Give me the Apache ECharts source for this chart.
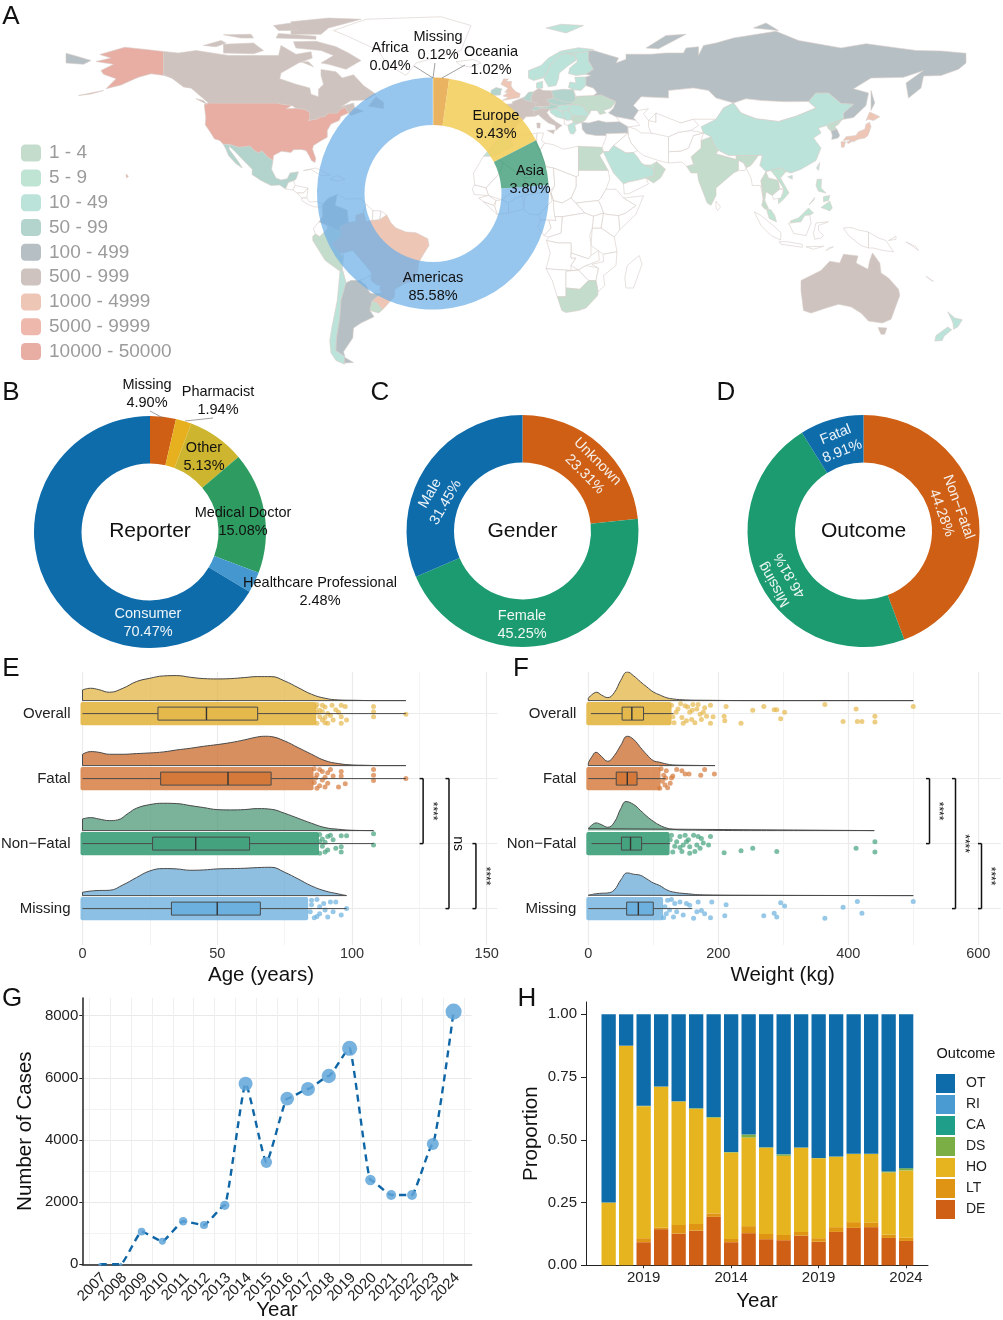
<!DOCTYPE html>
<html>
<head>
<meta charset="utf-8">
<title>Case overview</title>
<script src="https://cdn.jsdelivr.net/npm/echarts@6/dist/echarts.min.js"></script>
<style>
html,body{margin:0;padding:0;background:#fff}
#chart{width:1003px;height:1320px}
</style>
</head>
<body>
<div id="chart"></div>
<script>
// ---- A: map, rough country outlines as flat lon,lat rings
var mapShapes = {
  'USA':[[-124.7,48.4,-123,49,-95.2,49,-94.6,48.7,-89.6,48,-92,46.7,-88,46.9,-84.5,46.5,-82.5,45.3,-82.4,43,-83,42,-79,42.8,-79,43.3,-76.5,43.6,-75,45,-71.5,45,-70,46.7,-68.3,47.3,-67,45,-70,43.7,-70.7,42,-74,40.6,-75.5,38,-75.5,35.3,-78,33.9,-81,32,-81.4,30.5,-80.1,26.8,-80.4,25.2,-81.8,26,-82.8,28,-84,30,-86,30.4,-89,30.3,-90,29.2,-93.8,29.7,-97,28,-97.2,26,-99.5,27.5,-101.5,29.8,-103,29,-104.7,30,-106.5,31.8,-108.2,31.5,-111,31.3,-114.8,32.5,-117.1,32.5,-118.5,34,-120.6,34.6,-122.4,37.5,-124.3,40.3,-124.1,43],
    [-141,69.6,-141,60.3,-137.5,58.9,-133,55.5,-130,55,-134,58,-139,59.8,-146,60.7,-151,59.3,-154,58,-158,56.2,-164,54.7,-160,58.7,-165,60.5,-166,62,-161,64.5,-168,65.6,-162,67,-166.5,68.4,-156.5,71.3,-148,70.4],
    [-156,20.6,-155,19.7,-155.8,19],[-175,52,-165,54,-170,52.6]],
  'Canada':[[-141,69.6,-135,69,-128,70,-115,68,-108,68,-95,68,-94,72,-88,68.5,-82,69.5,-81.5,67,-87,65,-94,61,-94.5,58.7,-88,56.5,-82.5,55,-82,52.5,-79,51.5,-79,54.5,-77,56.5,-78,60,-78,62.4,-72,61.5,-69.5,59,-65,60.3,-61,56,-56,52.5,-60,50.2,-66,50,-70,47.5,-65,49,-64.5,47,-61,45.8,-66,44,-67,45,-68.3,47.3,-70,46.7,-71.5,45,-75,45,-76.5,43.6,-79,43.3,-79,42.8,-83,42,-82.4,43,-82.5,45.3,-84.5,46.5,-88,46.9,-89.6,48,-94.6,48.7,-95.2,49,-123,49,-130,55,-133,55.5,-137.5,58.9,-141,60.3],
    [-62,66,-68,62.5,-75,64.5,-78,65,-73,68,-78,70,-88,71,-89,73.5,-80,73.7,-72,71.5,-67,69],[-117,69,-105,68.7,-101,70,-105,73,-117,72.5],[-125,72,-118,74,-116,73,-120,71.5],[-90,76.5,-78,76.5,-75,79,-62,82.5,-75,83,-90,81.5],[-96,75,-80,74.5,-80,75.7,-95,76.8],[-95,78,-87,78,-90,81,-97,80],[-59,47.7,-53,46.8,-53,49.3,-56,51.5],[-128,50.7,-123.5,48.4,-125,50],[-110,75,-105,75,-106,76.5,-117,76.3],[-86,65.5,-81,63.5,-83,65.5]],
  'Greenland':[[-73,78,-68,76,-55,70,-52,65,-44,60,-40,65,-22,70,-20,75,-18,80,-30,83.5,-60,82.5]],
  'Iceland':[[-24,65.5,-22,64,-18,63.4,-14,65,-17,66.4]],
  'Mexico':[[-114.8,32.5,-111,31.3,-108.2,31.5,-106.5,31.8,-104.7,30,-103,29,-101.5,29.8,-99.5,27.5,-97.2,26,-97.8,22.5,-96,19,-94,18.2,-91.5,18.7,-90.4,21,-87,21.5,-88,18.5,-89,17.9,-91,17.2,-92.2,14.6,-94.5,16.2,-98,16,-102,18,-105.6,20.4,-105.5,22.5,-109,26,-112.8,30,-114.7,31.7],[-117.1,32.5,-114.8,32.4,-114.7,30.5,-111,25.5,-109.5,23,-112,24.7,-115,28,-116,30.5]],
  'Guatemala':[[-92.2,14.6,-91,17.2,-89,17.9,-88.3,16,-89.3,14.2]],
  'Honduras':[[-88.3,16,-83.2,15,-85,13,-87.5,13,-89.3,14.2]],
  'Nicaragua':[[-83.2,15,-83.7,11,-85.7,11,-87.5,13,-85,13]],
  'Panama':[[-83.7,11,-82.6,9.4,-79.5,9.6,-77.3,8.6,-78,7.4,-80.5,7.4,-83,8.3,-85.7,10,-85.7,11]],
  'Cuba':[[-85,22,-80,23,-74.2,20.2,-77.7,19.9,-82,22.4]],
  'Hispaniola':[[-74.4,18.5,-72,20,-68.4,18.6,-71.5,17.7]],
  'Colombia':[[-77.3,8.6,-75,11,-71.5,12.4,-72.3,8,-67.5,6.2,-67,1.2,-70.5,-0.5,-69.9,-4.2,-70,-2.5,-75.2,-0.1,-78.8,1.4,-77.3,3.8,-77.5,7]],
  'Venezuela':[[-71.5,12.4,-68,10.6,-62,10.7,-60,8.5,-61,5,-64,4,-64,1.5,-67,1.2,-67.5,6.2,-72.3,8]],
  'Guyana':[[-60,8.5,-57.2,6,-57.5,2,-60,1.5,-61,5]],
  'Suriname':[[-57.2,6,-54,5.8,-54.5,2.3,-57.5,2]],
  'Guiana':[[-54,5.8,-51.7,4.2,-54.5,2.3]],
  'Ecuador':[[-78.8,1.4,-75.2,-0.1,-75.5,-1.5,-78.5,-4.5,-80.3,-3.4,-81,-1]],
  'Peru':[[-80.3,-3.4,-78.5,-4.5,-75.5,-1.5,-75.2,-0.1,-70,-2.5,-69.9,-4.2,-73.8,-7.3,-70.6,-11,-69,-12.5,-69.5,-17.5,-70.4,-18.3,-76.3,-14,-81.3,-6,-81.3,-4.3]],
  'Brazil':[[-67,1.2,-64,1.5,-64,4,-61,5,-60,1.5,-57.5,2,-54.5,2.3,-51.7,4.2,-50,1,-48,-1,-44,-2.6,-40,-2.9,-35.3,-5.3,-34.8,-8,-37,-11.5,-39,-15,-39.2,-18,-41,-22,-44.5,-23.2,-48.5,-25.5,-48.7,-28.5,-52,-32.2,-53.4,-33.7,-55.7,-30.8,-57.6,-30.2,-53.8,-27,-54.5,-25.5,-54.2,-24,-55.5,-23.9,-58,-22,-57.8,-19,-60,-16.2,-65.3,-10,-69,-11,-70.6,-11,-73.8,-7.3,-69.9,-4.2,-70.5,-0.5]],
  'Bolivia':[[-69,-11,-65.3,-10,-60,-16.2,-57.8,-19,-58,-20,-62.5,-22,-66,-22,-68,-23,-69.5,-17.5,-69,-12.5]],
  'Paraguay':[[-58,-20,-58,-22,-55.5,-23.9,-54.2,-24,-54.5,-25.5,-57.6,-27.3,-58.5,-27,-60,-24,-62.5,-22]],
  'Chile':[[-69.5,-17.5,-68,-23,-70,-30,-70.5,-37,-71.8,-45,-72,-50,-68.5,-52.3,-68.6,-55.5,-72,-54,-74,-51,-74.5,-46,-73.5,-40,-71.5,-30,-70.4,-18.3]],
  'Argentina':[[-66,-22,-62.5,-22,-60,-24,-58.5,-27,-57.6,-27.3,-53.8,-27,-57.6,-30.2,-58.4,-34,-56.8,-36.5,-62,-39,-65,-41,-65.3,-45,-69,-50.5,-68.5,-52.3,-72,-50,-71.8,-45,-70.5,-37,-70,-30,-68,-23],[-68.6,-52.7,-65,-54.8,-68.6,-55]],
  'Uruguay':[[-57.6,-30.2,-55.7,-30.8,-53.4,-33.7,-54.9,-35,-58.4,-34]],
  'Morocco':[[-13,27.7,-8.7,27.7,-1,32,-2,35,-6,35.8,-9.8,31.5]],
  'Mauritania':[[-17,21,-13,27.7,-8.7,27.7,-5,25,-6.5,21,-12,15,-16.5,16.2]],
  'Algeria':[[-8.7,27.7,-1,32,-2,35,8.5,37,8,33,9.5,30,12,23.5,6,19,3.3,19,-5,25]],
  'Tunisia':[[8.5,37,11,37,10.2,34,11.5,33,9.5,30,8,33]],
  'Libya':[[11.5,33,15,32.3,19,30.5,25,31.7,25,20,24,19.5,15,23,12,23.5,9.5,30]],
  'Egypt':[[25,31.7,34.2,31.3,34.9,29.5,33.5,28,36.9,22,25,22]],
  'Sudan':[[25,22,36.9,22,37.5,18.5,36,14.5,34,11,33,10,24,9,22,11,24,15.5,24,19.5,25,20]],
  'South Sudan':[[24,9,33,10,34,8,35,5,31,3.7,27.5,5]],
  'Ethiopia':[[36,14.5,40,14.5,43,11,48,8,44,5,41,3.9,36,4.5,35,5,34,8,33,10,34,11]],
  'Somalia':[[43,11,51,11.9,48,4.5,41.5,-1.7,41,3.9,44,5,48,8]],
  'Kenya':[[41,3.9,41.5,-1.7,39.3,-4.6,34,-1,35,5,36,4.5]],
  'Tanzania':[[34,-1,39.3,-4.6,40.4,-10.5,34.9,-11.5,30,-8,30.5,-1]],
  'Uganda':[[31,3.7,35,5,34,-1,30.5,-1]],
  'Mali':[[-12,15,-6.5,21,-5,25,3.3,19,4,15,0,15,-5.5,10.2,-11,12]],
  'Niger':[[3.3,19,6,19,12,23.5,15,23,15.5,16,13.6,13.7,3.7,12,4,15]],
  'Chad':[[15,23,24,19.5,24,15.5,22,11,18.5,9,15,10,14,13,15.5,16]],
  'Nigeria':[[3,6.5,3.7,12,13.6,13.7,14.5,10,9,4.3,5.5,4.5]],
  'Cameroon':[[9,4.3,14.5,10,14,13,15,10,15,7.5,16,2,9.8,2.2]],
  'CAR':[[15,7.5,15,10,18.5,9,22,11,27.5,5,18.5,3.5,15.5,3.5]],
  'DRC':[[12.2,-6,13,-4.6,18,-3,18.5,3.5,27.5,5,31,3.7,30.5,-1,29.5,-4,30,-8,30,-12,29,-13.3,22,-11,22,-7,17,-7]],
  'Congo':[[11.2,-4,13,-4.6,18,-3,18.5,3.5,15.5,3.5,16,2,13,2.2,14,-1]],
  'Gabon':[[9.8,2.2,13,2.2,14,-1,11.2,-4,8.8,-0.7]],
  'Angola':[[12.2,-6,17,-7,22,-7,22,-11,22,-13,24,-13,22,-16,22,-18,12,-17.3,13.7,-11]],
  'Zambia':[[22,-11,29,-13.3,30,-12,33,-10,33.3,-14,28,-16,25,-17.8,22,-16,24,-13,22,-13]],
  'Namibia':[[12,-17.3,22,-18,25,-17.8,20,-18.3,20,-28.5,16.5,-28.5,14.5,-22]],
  'Botswana':[[20,-18.3,25,-17.8,29,-22,25.5,-25.5,20,-25]],
  'Zimbabwe':[[25,-17.8,28,-16,33,-17,32,-22,29,-22]],
  'Mozambique':[[34.9,-11.5,40.4,-10.5,40,-16,35,-20,35.5,-24,32.8,-26.5,32,-22,33,-17,30.3,-15.5,35,-14.5]],
  'Madagascar':[[49.3,-12,50.4,-15.5,47,-25,44,-25,43.5,-21,44.5,-16]],
  'South Africa':[[16.5,-28.5,20,-28.5,20,-25,25.5,-25.5,29,-22,32,-22,32.8,-26.5,32.7,-28,28,-33,25,-34,20,-34.8,18.3,-34,17,-30]],
  'Senegal':[[-17.5,14.7,-16.5,16.2,-12,15,-11,12,-16.7,12.4]],
  'Guinea':[[-15,11,-11,12,-8,10,-9,8,-13,9.5]],
  'Ivory Coast':[[-8,10,-5.5,10.2,-3,9,-3,5,-7.5,4.4,-8.5,7.5]],
  'Liberia':[[-13,9.5,-9,8,-8.5,7.5,-7.5,4.4]],
  'Ghana':[[-3,9,0,11,2.7,12,3,6.5,-3,5]],
  'Burkina':[[-5.5,10.2,0,15,4,15,2.7,12,0,11,-3,9]],
  'UK':[[-5.5,50,1.3,51.2,1.7,52.7,0,53.5,-1.5,55,-2,56,-1.8,57.6,-4,57.7,-3,58.6,-5,58.6,-6,56.5,-3.2,54.9,-4.5,53.3,-3,53.2,-5.2,51.8,-3,51.3]],
  'Ireland':[[-10,52,-6.2,52.2,-6,54,-5.5,54.6,-8,55.2,-10,54]],
  'France':[[-1.8,43.4,3,42.4,3.9,43.5,7.5,43.7,7,45.8,8.2,49,6.2,49.5,4,50,2.5,51,-1.4,49.5,-1.5,48.7,-4.7,48.4,-1.2,46]],
  'Spain':[[-9,43,-1.8,43.4,3,42.4,0,39.8,-0.5,38,-2,36.8,-5.4,36,-6.5,37,-7.4,37.2,-7,41.8,-8.8,42]],
  'Portugal':[[-8.8,42,-7,41.8,-7.4,37.2,-8.9,37,-9.5,38.7]],
  'Germany':[[6,51,7,53.5,9,54.8,11,54,14.2,53.9,15,51,12.2,50.3,13.8,48.7,13,47.6,7.6,47.6,8.2,49,6.2,49.5]],
  'Benelux':[[2.5,51,4,50,6.2,49.5,6,51,7,53.5,5,53.3,3.5,51.5]],
  'Denmark':[[8.2,55,8.2,57,10.6,57.7,10.7,55,9,54.8]],
  'Norway':[[5,59,7,58,10.7,59,12.2,61,14,64.5,18,68.5,24,69,29,69.7,31,70.4,25,71.1,18,69.8,13,67,10,64,5,62],[12,79,20,77,27,80,18,80.5]],
  'Sweden':[[11,59,13,55.5,16,56,17,58.7,17.3,61,21,64,24,66,23.7,68,20.5,69,18,68.5,14,64.5,12.2,61]],
  'Finland':[[21,60.8,24,60,28,60.5,31,62.5,29,66,29,69.7,24,69,20.5,69,23.7,68,24.5,65.5,21.5,63]],
  'Baltics':[[21,55.2,21.5,57.4,24,57,23.5,59.3,28,59.4,28,56,26,54,23,54.3]],
  'Poland':[[14.2,53.9,18.7,54.5,23,54.3,24,50.5,22.5,49.2,19,49.4,15,51]],
  'Czechia':[[12.2,50.3,15,51,19,49.4,22.5,49.2,22,48.4,17,48,13.8,48.7]],
  'Austria':[[9.6,47.3,13,47.6,13.8,48.7,17,48,16.2,46.8,13.7,46.5,10.5,46.9]],
  'Switzerland':[[6,46.2,7.6,47.6,9.6,47.3,10.4,46.5,8,46]],
  'Hungary':[[16.2,46.8,17,48,22,48.4,21,46.2,18,45.8]],
  'Italy':[[7,45.8,7.5,43.7,9,44.3,11,42.5,13,41,15.7,40,16,38,17,39,18.4,40,16,41.4,13.5,43.5,12.3,45.3,13.7,46.5,10.5,46.9,8,46],[12.5,38,15.5,38.2,15,36.7],[8.3,41,9.7,41,9.6,39,8.5,39]],
  'Croatia':[[13.7,45.2,13.7,46.5,16.2,46.8,18.8,45,19.3,42.6,16,43.5]],
  'Serbia':[[18.8,45,18,45.8,21,46.2,22.5,44,22.5,42.3,20.5,42,19.3,42.6]],
  'Albania':[[19.3,42.6,20.5,42,22.5,42.3,23,41.3,20.8,40,19.3,40.5]],
  'Greece':[[20.8,40,23,41.3,26.3,41.3,23.5,40.2,24,38,23,36.5,21.7,36.8,21,38.5]],
  'Bulgaria':[[22.5,44,28.6,43.6,27.6,42,26.3,41.3,23,41.3,22.5,42.3]],
  'Romania':[[21,46.2,22,48.4,26.6,48.2,28.2,45.5,29.6,45,28.6,43.6,22.5,44]],
  'Ukraine':[[22,48.4,22.5,49.2,24,50.5,24,51.7,31,52,34,52.3,40,49.6,38,47,35,46,36,45,33.5,44.4,32.5,46,30,46,29.6,45,28.2,45.5,26.6,48.2]],
  'Belarus':[[24,51.7,23,54.3,26,54,28,56,31,55,32.5,53,31,52]],
  'Turkey':[[26.3,41.3,29,41,33,42,36,41.3,41.5,41.5,44.7,39.7,44.8,37,36,36.7,36,36,32,36,28,36.7,26.5,38.5]],
  'Russia':[[28,59.4,30,60,28,60.5,31,62.5,29,66,29,69.7,31,70,41,67,40,65,44,66.5,44,68.5,54,68.5,60,69,67,69,68,71,73,71.5,73,68,75,72,80,73,87,75,104,77.7,113,74,130,71,140,72.7,160,70,170,69.8,180,68.9,180,65,177,62.5,170,60,163,59.8,162,55,157,51,156,57,163,62,155,59.3,142,59,135,54.7,141,53,140,48,135,43.2,131,42.5,131,45,135,48.5,130,48.8,125,53,120,53,117,49.6,108,49.5,98,50,92,50.7,87,49,80,51,77,54,71,55,61,54,61,51,50,51.5,47,48,49,46,47,43,48,42,40,43.5,37,45,39,47,40,49.6,34,52.3,31,52,32.5,53,31,55,28,56],
    [-180,68.9,-175,67.5,-170,66,-173,64.5,-180,65],[142,54,143.5,49,142,46,142,50],[52,71,57,70.7,68,76.5,60,76],[95,79,105,78,100,81]],
  'Kazakhstan':[[47,48,50,51.5,61,51,61,54,71,55,77,54,80,51,87,49,83,47,80,42.5,71,42.5,66,41,56,41.3,56,45,53,42,51,44.8,53,46.7,49,46]],
  'Mongolia':[[87,49,92,50.7,98,50,108,49.5,117,49.6,120,47,112,43.7,105,41.6,96,42.7,90,45]],
  'China':[[74,39.5,80,42.5,83,47,87,49,90,45,96,42.7,105,41.6,112,43.7,120,47,117,49.6,120,53,125,53,130,48.8,135,48.5,131,45,131,42.5,128,41.5,124.3,40,121,39,122,37,119,35,122,31,120,26,114,22.5,110,21,108,21.6,106,23,102,22,100,21.5,97.5,24,98.5,28,92,28,88,28,85,28,81,30,79,32.5,78,35.5,75,37],[108.7,19.5,110.5,20,110.5,18.5]],
  'Taiwan':[[120.2,23,121.5,25.2,121,22]],
  'India':[[68.2,23.7,71,24.5,70,27.5,74,31,74,34,78,35.5,79,32.5,81,30,80,28.7,88,26.5,88,28,92,28,97,28,94,24,92,23,91,25,89,26,89,22,87,21,82,16.7,80,15,80,12,78,8.1,76.5,9,73,18,72.6,21,70,21]],
  'Pakistan':[[61,25,66.5,25.4,68.2,23.7,71,24.5,70,27.5,74,31,74,34,75,37,71,36,69,31,66,29.8,61,29.5]],
  'Afghanistan':[[61,29.5,66,29.8,69,31,71,36,75,37,70,38,65,37.3,61,35.5]],
  'Iran':[[44.8,39.5,48,38.5,50,37,54,37,61,36.5,61,31,61,25,57,26,54,27,51,28,48.5,30,46,33,45,35.5]],
  'Iraq':[[39,32,44.8,37,45,35.5,46,33,48.5,30,47,29.2,44,29]],
  'Syria':[[36,36.7,44.8,37,39,32,37,29.5,35,29.5,34.5,31.5,36,35]],
  'Saudi Arabia':[[34.9,29.5,37,29.5,39,32,44,29,47,29.2,48.5,27.5,50.2,25,51.5,24.2,55,22.7,55.5,20,52,19,48,18,45,17.4,43,16.6,39,21,36.5,26]],
  'Yemen':[[43,16.6,45,17.4,48,18,52,19,53,16.6,45,12.7,43.3,12.7]],
  'Oman':[[52,19,55.5,20,55,22.7,56.3,25.5,59.8,22.5,57.8,19,55,17]],
  'UAE':[[51.5,24.2,54,24.2,56.3,25.5,55,22.7]],
  'Uzbekistan':[[53,42,56,41.3,56,45,66,41,71,42.5,73,40,70,38,65,37.3,61,35.5,54,37,53,39.5]],
  'Caucasus':[[40,43.5,48,42,49.5,40,44.8,39.5,41.5,41.5]],
  'Nepal':[[80,28.7,81,30,85,28,88,28,88,26.5]],
  'Bangladesh':[[89,26,91,25,92,23,91.5,22,89,22]],
  'Sri Lanka':[[80,9.7,81.8,7.5,80.6,6,80,7]],
  'Myanmar':[[92,23,94,24,97,28,98.5,28,97.5,24,100,21.5,98,18,99,10,97.8,16,94.5,16,94,19]],
  'Thailand':[[98,18,100,21.5,101,19,105,18,105.5,14.5,102.5,12,100,13.5,99.5,10,101,6.8,99.6,6.5,98.3,8,99,11]],
  'Laos':[[100,21.5,102,22,104,19.5,107,15,105.5,14.5,105,18,101,19]],
  'Vietnam':[[102,22,106,23,108,21.6,105.8,19,109.2,13,107,10.5,105,8.7,105,10.5,107,13,107,15,104,19.5]],
  'Cambodia':[[102.5,12,105.5,14.5,107,14.5,106,11,103,10.5]],
  'Malaysia':[[100.2,6.5,102,6.3,103.5,4,104.2,1.4,101.3,2.8],[109.7,1.8,113,3,115.5,5.5,117,7,119,5,117.5,4.2,115.5,4,114,1.5,112,1.3,110,1]],
  'Indonesia':[[95.3,5.5,98,4,104,-1,106,-3,105.8,-5.8,102,-4,98,0],[105.2,-6.5,108.5,-6.5,114.5,-7.5,114.5,-8.7,106,-7.5],[109,1,110,1,112,1.3,114,1.5,115.5,4,117.5,4.2,118,1,116,-4,111,-3.2,110,-1],[119.5,-5.5,119,-3,120,1,125,1.5,121,0,121,-2,123,-4,122,-5],[131,-1,134,-0.8,137,-1.8,141,-2.6,141,-9,138,-8,133,-4],[116,-8.5,123,-8.3,119,-9.5],[124,-10,127,-8.5,125,-9]],
  'Papua New Guinea':[[141,-2.6,145,-5,148,-6,151,-10.5,147,-10,143,-9,141,-9],[149,-6,152,-4.3,152,-5.5]],
  'Philippines':[[120.5,18.5,122.2,18.5,122,15,124,13,121,13.7,120,16],[122,7.2,125.5,9.7,126.5,7,125.5,5.8,124,6.5],[123,11.5,125.5,12,125,10,123,9.5],[117.2,8.3,119.5,11.2,119,10]],
  'North Korea':[[124.3,40,128,41.5,130.5,42.5,129,40.5,127.5,39.5,128.4,38.5,126,37.8,125,38.6]],
  'South Korea':[[126,37.8,128.4,38.5,129.5,36,128.8,35,126.3,34.4,126.5,36]],
  'Japan':[[130.9,34,132,35.5,136,36,137,37.5,139.5,38.5,140,40.5,141.4,41.3,142,39.5,140.8,36,139.5,35,136.8,34.5,135,33.5,133,34.3],[130,33.5,131.8,33.5,131.2,31.3,130.2,31.3],[132.3,33.5,134.5,34.2,134,33.3,132.8,32.8],[140,42,141.5,45.4,145.5,43.5,143,42,141,42.5]],
  'Australia':[[114,-22,114,-26,115,-34,118,-35,124,-33,129,-31.5,134,-32.5,138,-35,141,-38.2,146.5,-39,150,-37.5,153.5,-28,153,-25.5,149,-21,146,-19,145.5,-15,142.6,-11,141.5,-14,140.8,-17.5,136,-15,136.8,-12.2,131,-11.5,129.5,-15,125.5,-14.3,122,-18,117,-20.5],[144.8,-40.8,148.3,-41,147.5,-43.5,146,-43.5]],
  'New Zealand':[[172.7,-34.5,175.5,-37,178.5,-37.7,176.8,-40.5,175,-41.5,174.8,-39],[172.7,-40.6,174.3,-41.7,171.2,-44.3,170.5,-46,167.5,-46.2,168,-44]],
  'New Caledonia':[[164,-20.3,167,-22.3,166,-22]],
  'Solomon':[[156,-6.5,160,-8.5,161,-10]]
};
var countryCounts = {
  'USA':30000,'Canada':700,'Mexico':60,'Brazil':3000,'Argentina':200,'Colombia':200,'Chile':20,'Peru':3,'Uruguay':3,
  'UK':3000,'France':700,'Germany':700,'Italy':700,'Spain':700,'Portugal':60,'Benelux':60,'Denmark':30,'Norway':20,'Sweden':20,'Finland':20,'Baltics':20,
  'Poland':60,'Czechia':60,'Austria':60,'Switzerland':60,'Hungary':30,'Croatia':20,'Serbia':20,'Greece':20,'Bulgaria':3,'Romania':20,'Ukraine':3,'Ireland':60,
  'Russia':200,'Turkey':200,'China':20,'Japan':3000,'South Korea':200,'North Korea':3,'India':3,'Saudi Arabia':20,'Egypt':3,'Oman':3,'South Africa':3,'Morocco':20,
  'Australia':700,'New Zealand':20,'Thailand':3,'Malaysia':7,'Philippines':7,'Vietnam':7,'Taiwan':20,'UAE':7
};
var classNames = ['1 - 4','5 - 9','10 - 49','50 - 99','100 - 499','500 - 999','1000 - 4999','5000 - 9999','10000 - 50000'];
var classMins = [1,5,10,50,100,500,1000,5000,10000];
var classMaxs = [4,9,49,99,499,999,4999,9999,50000];
var classColors = ['#C4DCCC','#BFE4D3','#BCE3D9','#B3D4CD','#B5BFC4','#CEC3BF','#EEC6B6','#EEB8AC','#E8ADA3'];

// ---- A-D: donuts. Arc sizes follow the drawn slices, labels carry the printed percentages
var continentNames = ['Missing','Oceania','Europe','Asia','Americas','Africa'];
var continentArcs = [0.12,2.1,15.2,6.4,76.1,0.04];
var continentTexts = ['0.12%','1.02%','9.43%','3.80%','85.58%','0.04%'];
var continentColors = ['rgba(240,190,90,.95)','rgba(233,175,90,.95)','rgba(243,207,95,.9)','rgba(50,150,110,.75)','rgba(110,175,230,.72)','#9ec9ec'];
var reporterNames = ['Missing','Pharmacist','Other','Medical Doctor','Healthcare Professional','Consumer'];
var reporterArcs = [3.6,2.2,8,16.9,2.9,66.4];
var reporterTexts = ['4.90%','1.94%','5.13%','15.08%','2.48%','70.47%'];
var reporterColors = ['#CE5F15','#E6B01E','#CDB52F','#2E9C60','#4498CF','#0F6CAB'];
var genderNames = ['Unknown','Female','Male'];
var genderValues = [23.31,45.25,31.45];
var genderColors = ['#CE5F15','#1C9A70','#0F6CAB'];
var outcomeNames = ['Non\u2212Fatal','Missing','Fatal'];
var outcomeValues = [44.28,46.81,8.91];
var outcomeColors = ['#CE5F15','#1C9A70','#0F6CAB'];

// ---- E, F: rainclouds. density pairs are [x, height]
var rowNames = ['Overall','Fatal','Non\u2212Fatal','Missing'];
var rowColors = ['#E5B84C','#D4793A','#45A27E','#6BB0DE'];
var rowFills = ['rgba(226,177,60,.72)','rgba(204,112,50,.78)','rgba(70,150,115,.72)','rgba(90,160,210,.68)'];
var bandOpacity = [.95,.82,.95,.78];
var ageDensityOverall = [[0,32],[3,37],[6,33],[10,25],[15,37],[20,57],[25,67],[30,74],[35,75],[40,70],[45,66],[50,65],[55,66],[60,69],[65,72],[70,72],[75,59],[80,39],[85,19],[90,7],[95,2],[100,1],[110,0],[120,0]];
var ageDensityFatal = [[0,34],[3,42],[6,40],[10,34],[15,34],[20,36],[25,38],[30,41],[35,47],[40,52],[45,58],[50,63],[55,69],[60,77],[65,86],[68,88],[70,87],[75,74],[80,54],[85,34],[90,15],[95,6],[100,2],[105,1],[110,0],[120,0]];
var ageDensityNonFatal = [[0,35],[3,39],[6,35],[10,30],[13,32],[17,52],[20,67],[25,78],[30,82],[35,81],[40,75],[45,69],[50,63],[55,62],[60,63],[65,66],[70,64],[75,52],[80,37],[85,22],[90,9],[95,4],[100,1],[108,0]];
var ageDensityMissing = [[0,10],[5,15],[10,16],[15,32],[20,54],[25,74],[30,81],[35,80],[40,76],[45,77],[50,80],[55,81],[60,82],[65,84],[70,85],[75,70],[80,50],[85,29],[90,14],[95,5],[98,0]];
var ageBands = [[0,86],[0,85],[0,87],[0,83]];
// box: low whisker, q1, median, q3, high whisker
var ageBoxes = [[0,28,46,65,120],[0,29,54,70,120],[0,26,42,62,108],[0,33,50,66,98]];
var agePoints = [
  [[108,.11],[108,.03],[108,-.05],[120,-.01],[96,.13],[97.5,.11],[98,-.1],[96,-.15],[96,-.05],[93,-.1],[94,.06],[91,-.15],[92.6,.13],[95,.02],[87,.14],[88,.05],[89,-.1],[90,.1],[87,-.15],[91,0],[86.5,.1],[89,.13],[88,-.05],[90,-.14],[92,-.03],[87,.02],[89,.03],[90,-.06]],
  [[108,.14],[108,.05],[108,-.03],[120,0],[96,.11],[96,.04],[97.5,-.08],[95,-.13],[92,.14],[93,.04],[91,-.07],[90,-.13],[88,.14],[89,-.02],[91,.09],[86,.15],[87,.06],[88,-.11],[86,-.06],[89,.11],[87,-.15],[90,.02],[86.5,.01]],
  [[108,.15],[108,-.02],[98,.12],[96,.12],[96,-.05],[96,-.13],[94,-.07],[92,.13],[91,-.1],[93,.06],[90,.02],[88,.14],[89,.07],[90,-.13],[88,-.15],[89,-.04],[91,.11],[88,.03]],
  [[98,0],[96,-.1],[94,.1],[93,-.05],[92,.1],[91,-.13],[89.5,.08],[88,-.08],[87,.14],[88,.03],[85,.13],[86,-.14],[84.5,-.05],[85,.06],[87,-.12],[90,-.02]]
];
var weightDensityOverall = [[0,7],[5,17],[13,25],[20,17],[30,9],[40,24],[50,61],[60,86],[70,74],[80,57],[90,41],[100,26],[110,17],[120,9],[130,5],[150,2],[180,1],[250,0],[500,0]];
var weightDensityFatal = [[0,8],[5,25],[12,40],[20,28],[30,13],[40,30],[50,61],[60,88],[70,78],[80,55],[90,33],[100,15],[110,10],[120,5],[130,2],[150,1],[195,0]];
var weightDensityNonFatal = [[0,6],[5,16],[12,23],[20,18],[30,10],[40,25],[50,66],[58,87],[70,78],[80,61],[90,43],[100,28],[110,16],[120,8],[130,4],[150,2],[180,1],[250,0],[440,0]];
var weightDensityMissing = [[0,1],[10,5],[20,7],[30,8],[40,17],[50,47],[60,68],[70,64],[80,61],[90,50],[100,38],[110,30],[120,18],[130,11],[150,6],[180,2],[250,1],[500,0]];
var weightBands = [[0,125],[0,108],[0,122],[0,112]];
var weightBoxes = [[4,52,67,85,131],[0,43,60,75,119],[5,51,65,82,126],[0,59,77,100,160]];
var weightPoints = [
  [[188,.13],[212,.11],[253,.05],[270,.11],[286,.06],[290,.06],[302,.02],[296,-.08],[364,.14],[412,.07],[500,.11],[392,-.12],[414,-.12],[421,-.12],[441,-.04],[441,-.13],[235,-.15],[209,-.04],[210,-.11],[188,-.15],[192,-.05],[179,.09],[161,.14],[167,.07],[172,-.01],[174,-.09],[164,-.14],[156,.02],[149,.12],[144,-.06],[177,.02],[182,-.04],[151,-.11],[138,.07],[169,.14],[159,-.09],[128,.13],[132,-.14],[135,.02],[130,-.05],[142,.15],[146,-.15],[153,.1],[160,.05]],
  [[136,.14],[144,.12],[149,.07],[155,.07],[179,.14],[173,.05],[194,.07],[128,.01],[126,-.07],[118,-.1],[130,.04],[120,.12],[122,-.14],[112,.15],[114,-.04],[116,.05],[110,-.15],[119,.01]],
  [[188,.11],[209,-.14],[235,-.11],[253,-.07],[290,-.12],[412,-.07],[441,.03],[441,-.13],[141,.11],[149,.13],[154,.06],[162,.13],[169,.11],[174,.08],[146,-.02],[156,-.05],[167,-.02],[177,.01],[185,-.02],[144,-.12],[156,-.15],[164,-.12],[172,-.07],[136,.03],[141,-.06],[151,.03],[128,.13],[130,-.13],[133,-.04],[126,.06]],
  [[190,.1],[212,.06],[296,.09],[302,.04],[392,.02],[414,.11],[500,.11],[421,-.07],[364,-.15],[270,-.11],[286,-.07],[290,-.13],[210,-.11],[188,-.14],[179,-.08],[174,-.03],[169,.1],[167,-.05],[162,-.15],[151,.08],[141,.1],[146,-.1],[136,-.05],[156,.05],[131,-.13],[133,.08],[125,-.02],[122,.13],[116,-.14],[118,.03],[120,-.08],[128,.14]]
];
// significance brackets: x, from row, to row
var ageBrackets = [[126.4,3,2],[136,3,1],[146,2,1]];
var ageBracketText = ['****','ns','****'];
var weightBrackets = [[525,3,2],[565,3,1],[605,2,1]];
var weightBracketText = ['****','****','****'];

// ---- G
var years = [2007,2008,2009,2010,2011,2012,2013,2014,2015,2016,2017,2018,2019,2020,2021,2022,2023,2024];
var halfYears = [2006.5,2007.5,2008.5,2009.5,2010.5,2011.5,2012.5,2013.5,2014.5,2015.5,2016.5,2017.5,2018.5,2019.5,2020.5,2021.5,2022.5,2023.5,2024.5];
var caseCounts = [0,0,1050,740,1383,1265,1898,5812,3281,5330,5640,6059,6949,2713,2230,2230,3871,8129];
var caseTicks = [0,2000,4000,6000,8000];

// ---- H
var deValues = [0,0,.092,.144,.126,.138,.193,.092,.128,.104,.100,.118,.094,.133,.149,.152,.109,.097];
var ltValues = [0,0,.016,.006,.035,.027,.014,.013,.028,.021,.021,.015,.014,.019,.023,.018,.013,.013];
var hoValues = [.25,.875,.526,.561,.492,.459,.381,.344,.353,.343,.315,.335,.318,.280,.271,.273,.248,.268];
var dsValues = [0,0,.002,.001,.001,.002,.003,.002,.012,.002,.006,.001,.001,.001,.001,.001,.004,.009];
var caValues = [0,0,0,0,0,0,0,0,0,0,0,0,0,0,0,0,0,0];
var riValues = [0,0,0,0,0,0,0,0,0,0,0,0,0,0,0,0,0,0];
var otValues = [.75,.125,.364,.288,.346,.374,.409,.549,.479,.530,.558,.531,.573,.567,.556,.556,.626,.613];
var outcomeCodes = ['OT','RI','CA','DS','HO','LT','DE'];
var outcomeCodeColors = ['#0F6CAB','#4A9BD1','#1F9E8A','#7BAE45','#E6B41E','#E09413','#D05F16'];
var proportionTicks = [0,.25,.5,.75,1];
var barTickYears = [2009,2014,2019,2024];
var barTickLabels = ['2019','2014','2019','2024'];

var FONT = '"Liberation Sans", Arial, sans-serif';
var chart = echarts.init(document.getElementById('chart'), null, {renderer:'canvas'});

var features = [];
Object.keys(mapShapes).forEach(function(name){
  var polys = mapShapes[name].map(function(flat){
    var ring = [];
    for (var i=0;i<flat.length;i+=2) ring.push([flat[i],flat[i+1]]);
    ring.push(ring[0]);
    return [ring];
  });
  features.push({type:'Feature',properties:{name:name},geometry:{type:'MultiPolygon',coordinates:polys}});
});
echarts.registerMap('roughWorld',{type:'FeatureCollection',features:features});

function donut(center,names,values,colors,z){
  return {
    type:'pie',center:center,radius:[68.5,116],startAngle:90,silent:true,z:z||3,
    label:{show:false},labelLine:{show:false},animation:false,
    data:names.map(function(n,i){return {name:n,value:values[i],itemStyle:{color:colors[i]}};})
  };
}

var series = [];
series.push({
  type:'map',map:'roughWorld',aspectScale:1,boundingCoords:[[-180,83],[180,-56]],
  left:66,top:18,width:900,height:347.5,roam:false,silent:true,z:1,showLegendSymbol:false,
  itemStyle:{areaColor:'#fff',borderColor:'#d6ccc8',borderWidth:.6},
  label:{show:false},emphasis:{disabled:true},select:{disabled:true},
  data:Object.keys(countryCounts).map(function(n){return {name:n,value:countryCounts[n]};})
});
series.push(donut([433,193.5],continentNames,continentArcs,continentColors,4));
series.push(donut([150,532],reporterNames,reporterArcs,reporterColors));
series.push(donut([522.5,531],genderNames,genderValues,genderColors));
series.push(donut([863.5,531],outcomeNames,outcomeValues,outcomeColors));

// one raincloud panel: density, band of overlapping points, single points, box
function rainPanel(axisIdx,densities,bands,points,boxes,brackets,bracketText,tickLen,labelGap){
  var common = {xAxisIndex:axisIdx,yAxisIndex:axisIdx};
  rowNames.forEach(function(name,i){
    var row = 4-i, base = row+.2;
    series.push(Object.assign({
      type:'line',data:densities[i].map(function(d){return [d[0],base+d[1]/195];}),
      smooth:.45,symbol:'none',silent:true,z:3,
      lineStyle:{color:'#4a4a4a',width:1},
      areaStyle:{color:rowFills[i],opacity:1,origin:base}
    },common));
    var last = densities[i][densities[i].length-1][0];
    series.push(Object.assign({
      type:'line',data:[[0,base+densities[i][0][1]/195],[0,base],[last,base]],symbol:'none',silent:true,z:3,
      lineStyle:{color:'#4a4a4a',width:1}
    },common));
    series.push(Object.assign({
      type:'custom',silent:true,z:3,clip:false,data:[[bands[i][0],bands[i][1],row]],
      encode:{x:[0,1],y:2},
      renderItem:function(params,api){
        var a = api.coord([api.value(0),api.value(2)+.18]);
        var b = api.coord([api.value(1),api.value(2)-.18]);
        return {type:'rect',shape:{x:a[0]-2,y:a[1],width:b[0]-a[0]+4,height:b[1]-a[1],r:2},style:{fill:rowColors[i],opacity:bandOpacity[i]}};
      }
    },common));
    series.push(Object.assign({
      type:'scatter',silent:true,z:4,clip:false,symbolSize:5,
      itemStyle:{color:rowColors[i],opacity:.7},
      data:points[i].map(function(p){return [p[0],row+p[1]];})
    },common));
    series.push(Object.assign({
      type:'custom',silent:true,z:5,clip:false,data:[[row].concat(boxes[i])],
      encode:{x:[1,5],y:0},
      renderItem:function(params,api){
        var r = api.value(0);
        function pt(x,dy){return api.coord([x,r+dy]);}
        var lo=pt(api.value(1),0),hi=pt(api.value(5),0);
        var q1=pt(api.value(2),.1),q3=pt(api.value(4),-.1);
        var m1=pt(api.value(3),.1),m2=pt(api.value(3),-.1);
        var ls={stroke:'#4a4a4a',lineWidth:1};
        return {type:'group',children:[
          {type:'line',shape:{x1:lo[0],y1:lo[1],x2:hi[0],y2:hi[1]},style:ls},
          {type:'rect',shape:{x:q1[0],y:q1[1],width:q3[0]-q1[0],height:q3[1]-q1[1]},style:{fill:rowColors[i],stroke:'#4a4a4a',lineWidth:1}},
          {type:'line',shape:{x1:m1[0],y1:m1[1],x2:m2[0],y2:m2[1]},style:{stroke:'#333',lineWidth:1.4}}
        ]};
      }
    },common));
  });
  series.push(Object.assign({
    type:'custom',silent:true,z:5,clip:false,data:brackets,encode:{x:0,y:[1,2]},
    renderItem:function(params,api){
      var a=api.coord([api.value(0),api.value(1)]),b=api.coord([api.value(0),api.value(2)]);
      var ls={stroke:'#111',lineWidth:1.5};
      var txt=bracketText[params.dataIndex];
      return {type:'group',children:[
        {type:'line',shape:{x1:a[0],y1:a[1],x2:a[0],y2:b[1]},style:ls},
        {type:'line',shape:{x1:a[0]-tickLen,y1:a[1],x2:a[0],y2:a[1]},style:ls},
        {type:'line',shape:{x1:a[0]-tickLen,y1:b[1],x2:a[0],y2:b[1]},style:ls},
        {type:'text',x:a[0]+labelGap,y:(a[1]+b[1])/2,rotation:-Math.PI/2,
          style:{text:txt,fill:'#111',font:(txt==='ns'?'14px ':'12px ')+FONT,align:'center',verticalAlign:'middle'}}
      ]};
    }
  },common));
}
rainPanel(0,[ageDensityOverall,ageDensityFatal,ageDensityNonFatal,ageDensityMissing],ageBands,agePoints,ageBoxes,ageBrackets,ageBracketText,3.5,9);
rainPanel(1,[weightDensityOverall,weightDensityFatal,weightDensityNonFatal,weightDensityMissing],weightBands,weightPoints,weightBoxes,weightBrackets,weightBracketText,3.5,9);

series.push({
  type:'line',xAxisIndex:2,yAxisIndex:2,silent:true,z:3,clip:false,
  data:years.map(function(y,i){return [y,caseCounts[i]];}),
  smooth:.15,smoothMonotone:'x',symbol:'circle',
  symbolSize:function(v){return 3+Math.sqrt(v[1])*.145;},
  lineStyle:{color:'#0F66A6',width:2.4,type:[7,5]},
  itemStyle:{color:'rgba(96,165,216,.85)',borderWidth:0}
});

var stackOrder = [
  ['DE',deValues],['LT',ltValues],['HO',hoValues],['DS',dsValues],['CA',caValues],['RI',riValues],['OT',otValues]
];
// bars sit on a hidden category axis; the visible axes of panel H are on the grid next to it
stackOrder.forEach(function(s){
  series.push({
    type:'bar',name:s[0],xAxisIndex:4,yAxisIndex:4,stack:'outcome',barWidth:14.3,silent:true,z:3,
    itemStyle:{color:outcomeCodeColors[outcomeCodes.indexOf(s[0])]},
    data:s[1]
  });
});

// text placed by hand, the way the labels sit in the figure
var graphic = [];
function txt(t,x,y,size,color,rot){
  graphic.push({type:'text',x:x,y:y,rotation:(rot||0)*Math.PI/180,silent:true,z:50,
    style:{text:t,fill:color||'#111',font:size+'px '+FONT,align:'center',verticalAlign:'middle',lineHeight:Math.round(size*1.22)}});
}
function leader(x1,y1,x2,y2){
  graphic.push({type:'line',silent:true,z:49,shape:{x1:x1,y1:y1,x2:x2,y2:y2},style:{stroke:'#777',lineWidth:.7}});
}
[['A',11,17],['B',11,393],['C',380,393],['D',726,393],['E',11,669],['F',521,669],['G',12,999],['H',527,999]].forEach(function(p){
  txt(p[0],p[1],p[2],26,'#111');
});
function slice(names,texts,i){return names[i]+'\n'+texts[i];}
txt(slice(continentNames,continentTexts,5),390,57,14.5);
txt(slice(continentNames,continentTexts,0),438,46,14.5);
txt(slice(continentNames,continentTexts,1),491,61,14.5);
txt(slice(continentNames,continentTexts,2),496,125,14.5);
txt(slice(continentNames,continentTexts,3),530,180,14.5);
txt(slice(continentNames,continentTexts,4),433,287,14.5);
leader(414,66,433,78);leader(435,63,433,78);leader(465,65,442,78);
txt(slice(reporterNames,reporterTexts,0),147,394,14.5);
txt(slice(reporterNames,reporterTexts,1),218,401,14.5);
txt(slice(reporterNames,reporterTexts,2),204,457,14.5);
txt(slice(reporterNames,reporterTexts,3),243,522,14.5);
txt(slice(reporterNames,reporterTexts,4),320,592,14.5);
txt(slice(reporterNames,reporterTexts,5),148,623,14.5,'#eef5fa');
leader(150,411,163,418);leader(213,418,185,421);
txt('Reporter',150,531,21);
txt('Gender',522.5,531,21);
txt('Outcome',863.5,531,21);
txt(genderNames[0]+'\n'+genderValues[0].toFixed(2)+'%',591,468,14.5,'#f6efe8',-45);
txt(genderNames[1]+'\n'+genderValues[1].toFixed(2)+'%',522,625,14.5,'#eef7f3');
txt(genderNames[2]+'\n'+genderValues[2].toFixed(2)+'%',438,498,14.5,'#eef5fa',60);
txt(outcomeNames[0]+'\n'+outcomeValues[0].toFixed(2)+'%',950,510,14.5,'#f6efe8',-70);
txt(outcomeNames[1]+'\n'+outcomeValues[1].toFixed(2)+'%',782,580,14.5,'#eef7f3',120);
txt(outcomeNames[2]+'\n'+outcomeValues[2].toFixed(2)+'%',839,443,14.5,'#eef5fa',22);
txt('Outcome',966,1054,14.5);

function rowAxis(idx){
  return {type:'value',gridIndex:idx,min:.44,max:4.64,
    axisLine:{show:false},
    axisTick:{show:false,customValues:[1,2,3,4]},
    axisLabel:{customValues:[1,2,3,4],margin:12,fontSize:15,color:'#222',formatter:function(v){return rowNames[4-v];}},
    splitLine:{show:true,lineStyle:{color:'#ebebeb',width:1.2}}};
}
function rainX(idx,max,interval,name,pad){
  return {type:'value',gridIndex:idx,min:0,max:max,interval:interval,
    name:name,nameLocation:'middle',nameGap:20,nameTextStyle:{fontSize:20.5,color:'#111',padding:[0,pad,0,0]},
    axisLine:{show:false},axisTick:{show:false},
    axisLabel:{fontSize:14.5,color:'#333',margin:1,showMaxLabel:false},
    minorTick:{show:false,splitNumber:2},
    splitLine:{show:true,showMaxLine:false,lineStyle:{color:'#ebebeb',width:1.2}},
    minorSplitLine:{show:true,lineStyle:{color:'#f3f3f3',width:1}}};
}

chart.setOption({
  animation:false,
  textStyle:{fontFamily:FONT},
  grid:[
    {left:82.5,top:672,width:415,height:273,outerBoundsMode:'none'},
    {left:588.3,top:672,width:412.7,height:273,outerBoundsMode:'none'},
    {left:82.3,top:998,width:389.4,height:266.3,outerBoundsMode:'none'},
    {left:586,top:1002,width:342,height:263.3,outerBoundsMode:'none'},
    {left:599.9,top:1002,width:315,height:263.3,outerBoundsMode:'none'},
    // year labels of panel G only, a category axis keeps every rotated label
    {left:93.3,top:998,width:374.4,height:266.3,outerBoundsMode:'none'}
  ],
  xAxis:[
    rainX(0,154,50,'Age (years)',58),
    rainX(1,635,200,'Weight (kg)',24),
    {type:'value',gridIndex:2,min:2006.15,max:2024.87,
      name:'Year',nameLocation:'middle',nameGap:36,nameTextStyle:{fontSize:20.5,color:'#111'},
      axisLine:{onZero:false,lineStyle:{color:'#222',width:1.5}},
      axisTick:{show:false,customValues:halfYears},
      axisLabel:{show:false},
      splitLine:{show:true,lineStyle:{color:'#efefef',width:1}}},
    {type:'value',gridIndex:3,min:2005.7,max:2025.26,
      name:'Year',nameLocation:'middle',nameGap:26,nameTextStyle:{fontSize:20.5,color:'#111'},
      axisLine:{onZero:false,lineStyle:{color:'#222',width:1}},
      axisTick:{show:true,customValues:barTickYears,length:3,lineStyle:{color:'#222'}},
      axisLabel:{customValues:barTickYears,fontSize:15,color:'#222',margin:5,formatter:function(v){return barTickLabels[barTickYears.indexOf(v)];}},
      splitLine:{show:false}},
    {type:'category',gridIndex:4,data:years,show:false},
    {type:'category',gridIndex:5,data:years,
      axisLine:{show:false},axisTick:{show:false},splitLine:{show:false},
      axisLabel:{interval:0,rotate:45,fontSize:15,color:'#222',margin:11,hideOverlap:false}}
  ],
  yAxis:[
    rowAxis(0),rowAxis(1),
    {type:'value',gridIndex:2,min:0,max:8568,interval:2000,
      name:'Number of Cases',nameLocation:'middle',nameGap:46,nameTextStyle:{fontSize:20.5,color:'#111'},
      axisLine:{show:true,lineStyle:{color:'#222',width:1.5}},
      axisTick:{show:true,length:3,customValues:caseTicks,lineStyle:{color:'#222'}},
      axisLabel:{customValues:caseTicks,fontSize:15,color:'#222',margin:4,formatter:function(v){return String(v);}},
      minorTick:{show:false,splitNumber:2},
      splitLine:{show:true,lineStyle:{color:'#e9e9e9',width:1.2}},
      minorSplitLine:{show:true,lineStyle:{color:'#f2f2f2',width:1}}},
    {type:'value',gridIndex:3,min:0,max:1.049,
      name:'Proportion',nameLocation:'middle',nameGap:44,nameTextStyle:{fontSize:20.5,color:'#111'},
      axisLine:{show:true,lineStyle:{color:'#222',width:1}},
      axisTick:{show:true,customValues:proportionTicks,length:5,lineStyle:{color:'#222'}},
      axisLabel:{customValues:proportionTicks,fontSize:15,color:'#222',margin:9,formatter:function(v){return v.toFixed(2);}},
      splitLine:{show:false}},
    {type:'value',gridIndex:4,min:0,max:1.049,show:false},
    {type:'value',gridIndex:5,min:0,max:1,show:false}
  ],
  visualMap:{
    type:'piecewise',seriesIndex:0,left:21,top:143.6,padding:0,inverse:true,orient:'vertical',
    itemWidth:20,itemHeight:17,itemGap:5.8,itemSymbol:'roundRect',hoverLink:false,selectedMode:false,
    textGap:8,textStyle:{fontSize:19,color:'#9b9b9b',fontFamily:FONT},
    pieces:classNames.map(function(n,i){return {min:classMins[i],max:classMaxs[i],label:n,color:classColors[i]};}),
    outOfRange:{color:'#fff'}
  },
  legend:{
    data:outcomeCodes,orient:'vertical',left:936,top:1074,padding:0,itemWidth:19,itemHeight:19,itemGap:2,
    selectedMode:false,icon:'rect',textStyle:{fontSize:14,color:'#222',padding:[0,0,0,6],fontFamily:FONT}
  },
  graphic:graphic,
  series:series
});
</script>
</body>
</html>
